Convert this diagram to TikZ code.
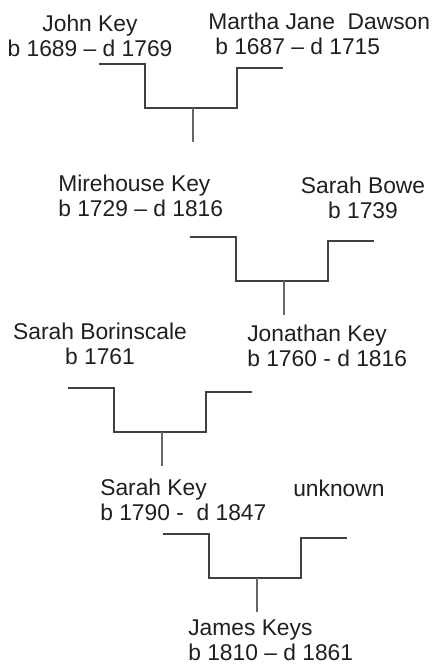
\documentclass[tikz,border=0pt]{standalone}
\usepackage{fontspec}
\setmainfont{Liberation Sans}
\usetikzlibrary{positioning}

\begin{document}
\begin{tikzpicture}[x=1pt, y=-1pt, semithick]
	\tikzstyle{person}=[inner sep=0pt, text=black!88, font=\fontsize{22.8}{24.5}\selectfont]
	\tikzstyle{bar}=[line width=2.5pt, draw=black!75]
	\tikzstyle{stem}=[line width=1.3pt, draw=black!60]
	\useasboundingbox (0,0) rectangle (435,665);
	% people
	\node[person, align=center, anchor=north]      (john)   at (90,15)   {John Key\\b 1689 – d 1769};
	\node[person, align=left, anchor=north west]   (martha) at (208,13)  {Martha Jane\ \ Dawson\\\hspace{7pt}b 1687 – d 1715};
	\node[person, align=left, anchor=north west]   (mire)   at (58,175)  {Mirehouse Key\\b 1729 – d 1816};
	\node[person, align=center, anchor=north]      (bowe)   at (363,177) {Sarah Bowe\\b 1739};
	\node[person, align=center, anchor=north]      (borin)  at (100,323) {Sarah Borinscale\\b 1761};
	\node[person, align=left, anchor=north west]   (jon)    at (247,325) {Jonathan Key\\b 1760 - d 1816};
	\node[person, align=left, anchor=north west]   (sarah)  at (100,479) {Sarah Key\\b 1790 -\ \ d 1847};
	\node[person, anchor=north west]               (unk)    at (293,480) {unknown};
	\node[person, align=left, anchor=north west]   (james)  at (188,620) {James Keys\\b 1810 – d 1861};
	% marriages
	\foreach \x/\y/\n in {99/64/one, 190/237/two, 68/388/three, 163/534/four}{
		\coordinate (\n) at (\x,\y);
		\draw[bar] (\n) -- ++(46,0) -- ++(0,44) -- ++(92,0) -- ++(0,-40) -- ++(46,0);
		\coordinate (\n-kid) at ([shift={(94,44)}]\n);
		\draw[stem] (\n-kid) -- ++(0,34);
	}
\end{tikzpicture}
\end{document}
